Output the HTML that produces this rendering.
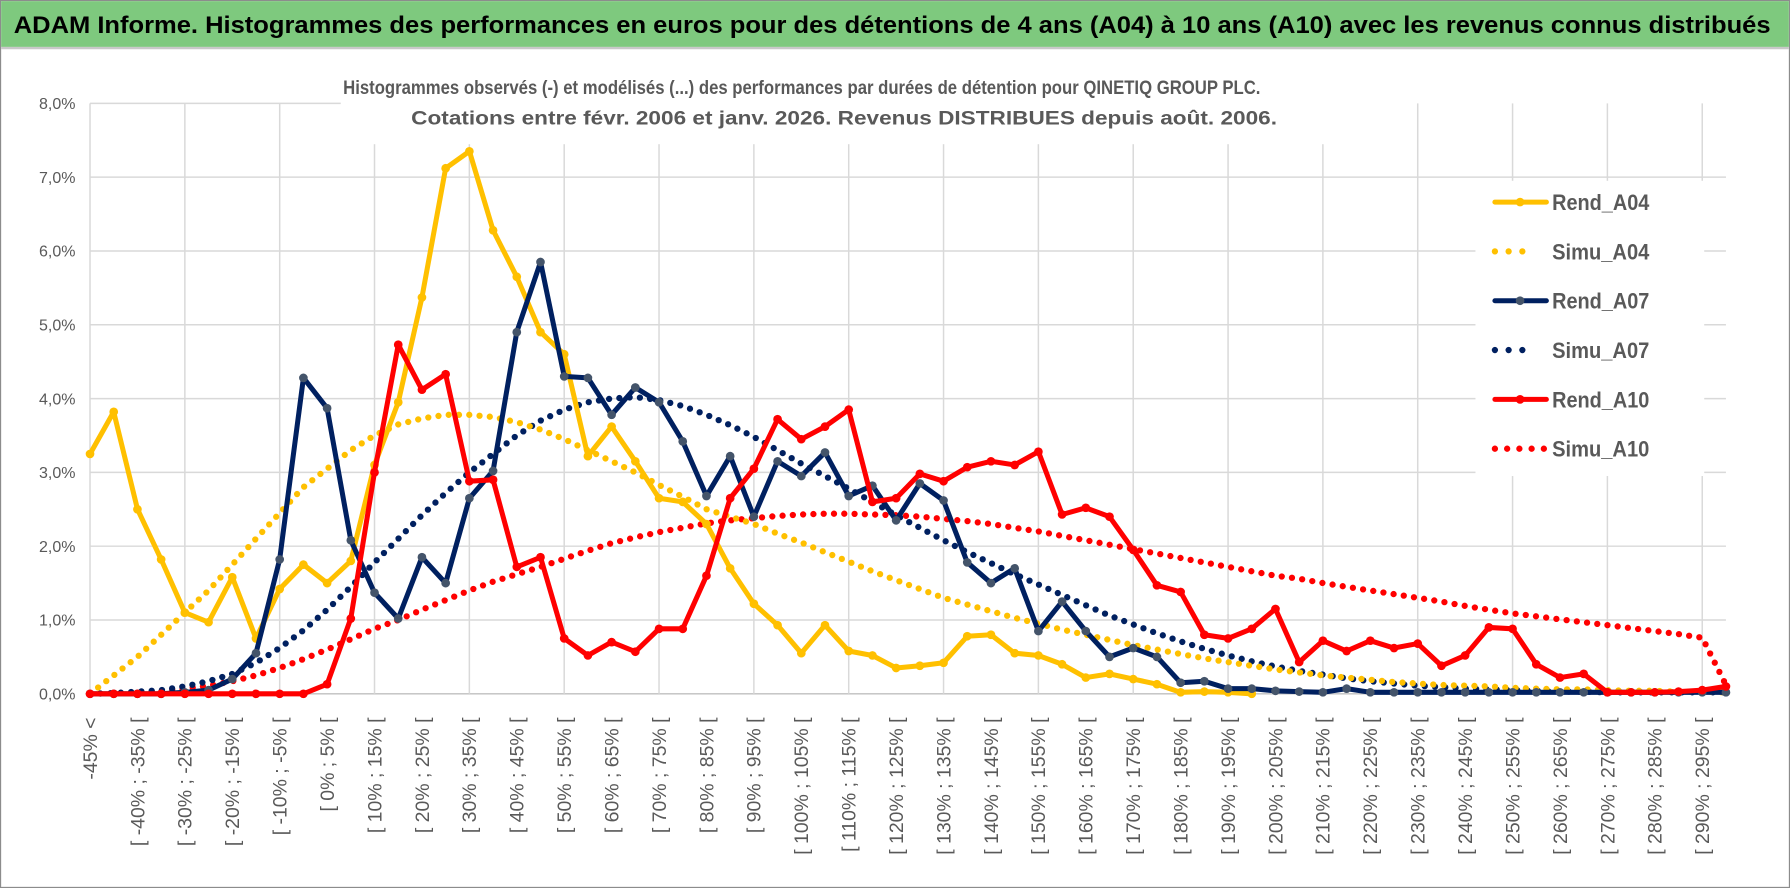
<!DOCTYPE html>
<html><head><meta charset="utf-8"><style>
html,body{margin:0;padding:0;background:#fff;}
svg{display:block;font-family:"Liberation Sans",sans-serif;}
</style></head><body>
<svg id="chart" width="1790" height="888" viewBox="0 0 1565 776" preserveAspectRatio="none" xmlns="http://www.w3.org/2000/svg">
<rect x="0.5" y="0.5" width="1564" height="775" fill="#fff" stroke="#8c8c8c" stroke-width="1"/>
<rect x="1" y="1" width="1563" height="40" fill="#7ec97e"/>
<line x1="1" y1="42" x2="1564" y2="42" stroke="#c8c8c8" stroke-width="2"/>
<text x="12" y="29" font-size="21" font-weight="bold" fill="#000" textLength="1536" lengthAdjust="spacingAndGlyphs">ADAM Informe. Histogrammes des performances en euros pour des détentions de 4 ans (A04) à 10 ans (A10) avec les revenus connus distribués</text>
<g id="grid"></g>
<rect x="298" y="60" width="940" height="66" fill="#fff"/>
<text x="701" y="82" font-size="17" font-weight="bold" fill="#595959" text-anchor="middle" textLength="802" lengthAdjust="spacingAndGlyphs">Histogrammes observés (-) et modélisés (...) des performances par durées de détention pour QINETIQ GROUP PLC.</text>
<text x="738" y="109" font-size="17" font-weight="bold" fill="#595959" text-anchor="middle" textLength="757" lengthAdjust="spacingAndGlyphs">Cotations entre févr. 2006 et janv. 2026. Revenus DISTRIBUES depuis août. 2006.</text>
<g id="ylabels"></g>
<g id="xlabels"></g>
<g id="series"></g>
<rect x="1290" y="158" width="200" height="258" fill="#fff"/>
<g id="legend"></g>
</svg>
<script>
const rendA04 = [3.25,3.82,2.5,1.82,1.1,0.97,1.58,0.75,1.42,1.75,1.5,1.8,3.1,3.95,5.37,7.12,7.35,6.28,5.65,4.9,4.6,3.22,3.62,3.15,2.65,2.6,2.3,1.7,1.22,0.93,0.55,0.93,0.58,0.52,0.35,0.38,0.42,0.78,0.8,0.55,0.52,0.4,0.22,0.27,0.2,0.13,0.02,0.03,0.02,0.0,null,null,null,null,null,null,null,null,null,null,null,null,null,null,null,null,null,null,null,null];
const simuA04 = [0.0,0.25,0.5,0.8,1.1,1.4,1.75,2.1,2.45,2.8,3.05,3.3,3.5,3.65,3.73,3.78,3.78,3.75,3.68,3.58,3.45,3.3,3.15,3.0,2.83,2.67,2.5,2.4,2.3,2.17,2.05,1.92,1.79,1.66,1.54,1.42,1.3,1.21,1.12,1.03,0.95,0.87,0.8,0.73,0.66,0.6,0.54,0.48,0.43,0.38,0.33,0.29,0.25,0.22,0.19,0.16,0.14,0.12,0.11,0.1,0.08,0.07,0.06,0.06,0.05,0.04,0.04,0.03,0.03,0.02];
const rendA07 = [0,0,0,0,0.02,0.05,0.2,0.55,1.82,4.28,3.87,2.08,1.37,1.02,1.85,1.5,2.65,3.02,4.9,5.85,4.3,4.28,3.78,4.15,3.95,3.42,2.68,3.22,2.4,3.15,2.95,3.27,2.68,2.82,2.35,2.85,2.62,1.78,1.5,1.7,0.85,1.25,0.85,0.5,0.62,0.5,0.15,0.17,0.07,0.07,0.04,0.03,0.02,0.07,0.02,0.02,0.02,0.02,0.02,0.02,0.02,0.02,0.02,0.02,0.02,0.02,0.02,0.02,0.02,0.02];
const simuA07 = [0,0.01,0.03,0.05,0.1,0.17,0.27,0.42,0.62,0.86,1.14,1.45,1.78,2.1,2.42,2.72,3.0,3.25,3.5,3.7,3.85,3.95,4.0,4.02,3.98,3.9,3.78,3.64,3.48,3.3,3.12,2.95,2.78,2.6,2.42,2.25,2.08,1.92,1.77,1.62,1.48,1.34,1.2,1.06,0.94,0.82,0.71,0.61,0.52,0.44,0.37,0.31,0.26,0.21,0.17,0.14,0.11,0.09,0.07,0.06,0.05,0.04,0.03,0.03,0.02,0.02,0.02,0.02,0.02,0.02];
const rendA10 = [0,0,0,0,0,0,0,0,0,0,0.13,1.02,3.0,4.73,4.12,4.33,2.88,2.9,1.72,1.85,0.75,0.52,0.7,0.57,0.88,0.88,1.6,2.65,3.05,3.72,3.45,3.62,3.85,2.6,2.65,2.98,2.88,3.07,3.15,3.1,3.28,2.43,2.52,2.4,1.95,1.47,1.38,0.8,0.75,0.88,1.15,0.43,0.72,0.58,0.72,0.62,0.68,0.38,0.52,0.9,0.88,0.4,0.22,0.27,0.02,0.02,0.02,0.03,0.05,0.1];
const simuA10 = [0,0.01,0.02,0.04,0.07,0.11,0.17,0.25,0.35,0.47,0.6,0.74,0.88,1.0,1.14,1.27,1.4,1.52,1.62,1.72,1.83,1.94,2.04,2.12,2.19,2.25,2.31,2.35,2.38,2.41,2.43,2.44,2.44,2.43,2.42,2.4,2.37,2.34,2.3,2.25,2.2,2.14,2.08,2.02,1.96,1.9,1.84,1.78,1.72,1.66,1.6,1.56,1.5,1.45,1.4,1.35,1.3,1.25,1.19,1.14,1.09,1.05,1.01,0.97,0.93,0.89,0.85,0.81,0.76,0.12];
const yTicks = [0,1,2,3,4,5,6,7,8];
const yTickLabels = ["0,0%","1,0%","2,0%","3,0%","4,0%","5,0%","6,0%","7,0%","8,0%"];
const legendNames = ["Rend_A04","Simu_A04","Rend_A07","Simu_A07","Rend_A10","Simu_A10"];

const NS = "http://www.w3.org/2000/svg";
const N = 70;
const X0 = 78.7, DX = (1509 - 78.7) / 69;
const Y0 = 606.3, DY = 64.5;
function xPos(i){ return X0 + i * DX; }
function yPos(v){ return Y0 - v * DY; }
const categories = [];
for (let i = 0; i < N; i++) {
  if (i === 0) categories.push("-45% <");
  else { const lo = -45 + 5 * (i - 1); categories.push("[ " + lo + "% ; " + (lo + 5) + "% ["); }
}
function mk(tag, attrs, parent){
  const e = document.createElementNS(NS, tag);
  for (const k in attrs) e.setAttribute(k, attrs[k]);
  parent.appendChild(e); return e;
}
const grid = document.getElementById('grid');
for (let t = 0; t < yTicks.length; t++) {
  const y = yPos(yTicks[t]);
  const x2 = yTicks[t] === 8 ? 298 : 1509;
  const l = mk('line', {x1: X0, y1: y, x2: x2, y2: y, stroke: t === 0 ? '#bfbfbf' : '#d9d9d9', 'stroke-width': 1.3}, grid);
  
  
}
for (let i = 0; i < N; i += 4) {
  const l = mk('line', {x1: xPos(i), y1: yPos(8), x2: xPos(i), y2: yPos(0), stroke: '#d9d9d9', 'stroke-width': 1.3}, grid);
  
  
}
const yl = document.getElementById('ylabels');
for (let t = 0; t < yTicks.length; t++) {
  const tx = mk('text', {x: 66, y: yPos(yTicks[t]) + 5, 'font-size': 14, fill: '#595959', 'text-anchor': 'end'}, yl);
  tx.textContent = yTickLabels[t];
  
  
}
const xl = document.getElementById('xlabels');
for (let i = 0; i < N; i += 2) {
  const x = xPos(i) + 6, y = 627;
  const tx = mk('text', {x: x, y: y, 'font-size': 17, fill: '#595959', 'text-anchor': 'end', transform: 'rotate(-90 ' + x + ' ' + y + ')'}, xl);
  tx.textContent = categories[i];
  
  
}
const sg = document.getElementById('series');
function pathFor(arr){
  let d = '', started = false;
  for (let i = 0; i < arr.length; i++) {
    if (arr[i] === null) { started = false; continue; }
    d += (started ? 'L' : 'M') + xPos(i).toFixed(1) + ' ' + yPos(arr[i]).toFixed(1);
    started = true;
  }
  return d;
}
function dotted(arr, color, name){
  const p = mk('path', {d: pathFor(arr), fill: 'none', stroke: color, 'stroke-width': 5.5, 'stroke-linecap': 'round', 'stroke-dasharray': '0 9'}, sg);
  
  
}
function solid(arr, color, mcolor, name){
  const p = mk('path', {d: pathFor(arr), fill: 'none', stroke: color, 'stroke-width': 4.4, 'stroke-linejoin': 'round'}, sg);
  
  
  for (let i = 0; i < arr.length; i++) {
    if (arr[i] === null) continue;
    const c = mk('circle', {cx: xPos(i), cy: yPos(arr[i]), r: 3.8, fill: mcolor}, sg);
    
    
  }
}
dotted(simuA10, '#ff0000', 'simu-a10-line');
dotted(simuA07, '#002060', 'simu-a07-line');
dotted(simuA04, '#ffc000', 'simu-a04-line');
solid(rendA04, '#ffc000', '#ffc000', 'rend-a04-line');
solid(rendA07, '#002060', '#44546a', 'rend-a07-line');
solid(rendA10, '#ff0000', '#ff0000', 'rend-a10-line');

const lg = document.getElementById('legend');
const lcolors = ['#ffc000','#ffc000','#002060','#002060','#ff0000','#ff0000'];
const lmark = ['#ffc000',null,'#44546a',null,'#ff0000',null];
for (let k = 0; k < legendNames.length; k++) {
  const y = 176.6 + k * 43.1;
  if (lmark[k]) {
    const l = mk('line', {x1: 1307, y1: y, x2: 1352, y2: y, stroke: lcolors[k], 'stroke-width': 4.4, 'stroke-linecap': 'round'}, lg);
    
    
    const c = mk('circle', {cx: 1329, cy: y, r: 3.8, fill: lmark[k]}, lg);
    
    
  } else {
    const l = mk('line', {x1: 1307, y1: y, x2: k === 5 ? 1350 : 1343, y2: y, stroke: lcolors[k], 'stroke-width': 5.5, 'stroke-linecap': 'round', 'stroke-dasharray': k === 5 ? '0 10.7' : '0 12'}, lg);
    
    
  }
  const t = mk('text', {x: 1357, y: y + 7, 'font-size': 19, 'font-weight': 'bold', fill: '#595959', textLength: 85, lengthAdjust: 'spacingAndGlyphs'}, lg);
  t.textContent = legendNames[k];
  
  
}
</script>
</body></html>
